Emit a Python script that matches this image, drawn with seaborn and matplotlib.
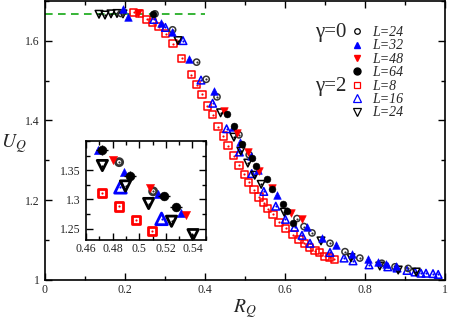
import matplotlib
matplotlib.use("Agg")
import matplotlib.pyplot as plt
import seaborn as sns
from matplotlib.lines import Line2D
from matplotlib.ticker import MultipleLocator, FuncFormatter

# ---------------- data ----------------
# gamma = 0
g0_L24_R = [0.190, 0.275, 0.319, 0.379, 0.403, 0.430, 0.4849, 0.5105, 0.630, 0.6475, 0.6675, 0.7125, 0.750, 0.787, 0.842, 0.875, 0.908]
g0_L24_U = [1.668, 1.667, 1.627, 1.546, 1.503, 1.459, 1.3638, 1.3138, 1.154, 1.134, 1.118, 1.092, 1.071, 1.055, 1.042, 1.033, 1.029]

g0_L32_R = [0.196, 0.2075, 0.290, 0.3175, 0.360, 0.4225, 0.4692, 0.4885, 0.5139, 0.5313, 0.581, 0.654, 0.692, 0.7285, 0.7685, 0.808, 0.833, 0.852, 0.877]
g0_L32_U = [1.680, 1.658, 1.643, 1.622, 1.554, 1.474, 1.384, 1.3466, 1.310, 1.2759, 1.212, 1.132, 1.105, 1.088, 1.065, 1.052, 1.045, 1.040, 1.035]

g0_L48_R = [0.232, 0.4475, 0.4805, 0.5079, 0.5352, 0.567, 0.615, 0.643]
g0_L48_U = [1.668, 1.423, 1.3678, 1.3201, 1.2741, 1.230, 1.167, 1.152]

g0_L64_R = [0.270, 0.454, 0.4723, 0.4934, 0.5187, 0.5279, 0.555, 0.567, 0.595, 0.605, 0.620]
g0_L64_U = [1.667, 1.416, 1.385, 1.3397, 1.3063, 1.2868, 1.252, 1.229, 1.190, 1.174, 1.142]
g0_L64_Rerr = [0.003, 0.004, 0.0045, 0.0045, 0.0045, 0.0045, 0.004, 0.004, 0.004, 0.004, 0.004]
g0_L64_Uerr = [0.004, 0.008, 0.009, 0.009, 0.007, 0.007, 0.006, 0.006, 0.005, 0.005, 0.005]

# gamma = 2
g2_L8_R = [0.222, 0.236, 0.254, 0.269, 0.285, 0.302, 0.320, 0.342, 0.366, 0.379, 0.3925, 0.406, 0.419, 0.4325, 0.446, 0.4575,
           0.4723, 0.4849, 0.4979, 0.5096, 0.5225, 0.535, 0.547, 0.557, 0.570, 0.585, 0.602, 0.620, 0.635, 0.648, 0.662,
           0.675, 0.687, 0.700, 0.712, 0.723]
g2_L8_U = [1.671, 1.668, 1.653, 1.645, 1.635, 1.617, 1.592, 1.556, 1.514, 1.489, 1.465, 1.436, 1.414, 1.384, 1.361, 1.336,
           1.3115, 1.2879, 1.2655, 1.2454, 1.226, 1.208, 1.194, 1.179, 1.165, 1.145, 1.130, 1.114, 1.102, 1.092, 1.082,
           1.073, 1.068, 1.060, 1.057, 1.052]

g2_L16_R = [0.272, 0.301, 0.345, 0.390, 0.419, 0.454, 0.4859, 0.5168, 0.547, 0.577, 0.601, 0.624, 0.6425, 0.6625, 0.7125,
            0.7475, 0.770, 0.810, 0.857, 0.880, 0.905, 0.925, 0.940, 0.9525, 0.970, 0.983]
g2_L16_U = [1.653, 1.633, 1.600, 1.501, 1.443, 1.379, 1.3207, 1.2667, 1.222, 1.185, 1.152, 1.132, 1.112, 1.092, 1.069,
            1.055, 1.048, 1.038, 1.033, 1.030, 1.024, 1.020, 1.017, 1.017, 1.016, 1.014]

g2_L24_R = [0.135, 0.150, 0.165, 0.180, 0.195, 0.3325, 0.439, 0.4723, 0.4897, 0.5071, 0.5243, 0.5405, 0.598, 0.690, 0.765, 0.837, 0.883, 0.928]
g2_L24_U = [1.666, 1.664, 1.667, 1.668, 1.667, 1.600, 1.419, 1.358, 1.323, 1.293, 1.2626, 1.2397, 1.170, 1.098, 1.056, 1.035, 1.025, 1.020]

plateau = 5.0 / 3.0
plateau_R = [0.0, 0.4]

legend_labels = ["L=24", "L=32", "L=48", "L=64", "L=8", "L=16", "L=24"]

# ---------------- style ----------------
sns.set_style("ticks")
plt.rcParams['font.family'] = ['Liberation Serif', 'DejaVu Serif']
plt.rcParams['mathtext.fontset'] = 'stix'
for a in ('x', 'y'):
    plt.rcParams[f'{a}tick.direction'] = 'in'

RED, BLUE, BLACK = "#ff0000", "#0000ff", "#000000"

series = [
    # R, U, marker, color, filled, main size, inset size
    (g2_L8_R, g2_L8_U, 's', RED, False, 26, 34),
    (g2_L16_R, g2_L16_U, '^', BLUE, False, 30, 70),
    (g2_L24_R, g2_L24_U, 'v', BLACK, False, 30, 55),
    (g0_L24_R, g0_L24_U, 'o', "#333333", False, 20, 26),
    (g0_L32_R, g0_L32_U, '^', BLUE, True, 30, 34),
    (g0_L48_R, g0_L48_U, 'v', RED, True, 30, 34),
    (g0_L64_R, g0_L64_U, 'o', BLACK, True, 24, 40),
]

INSET_X = (0.46, 0.55)
INSET_Y = (1.23, 1.40)


def draw(axis, R, U, marker, color, filled, s, lw, window=None):
    if window is not None:
        pts = [(r, u) for r, u in zip(R, U)
               if window[0][0] <= r <= window[0][1] and window[1][0] <= u <= window[1][1]]
        R = [p[0] for p in pts]
        U = [p[1] for p in pts]
        if not R:
            return
    if filled:
        sns.scatterplot(x=R, y=U, marker=marker, color=color, edgecolor=color, linewidth=0.4,
                        s=s, ax=axis, legend=False, zorder=3)
    else:
        sns.scatterplot(x=R, y=U, marker=marker, color=color, facecolors='none', edgecolor=color,
                        linewidth=lw, s=s, ax=axis, legend=False, zorder=3)
        sns.scatterplot(x=R, y=U, marker='o', color=color, edgecolor=color, linewidth=0,
                        s=2.5, ax=axis, legend=False, zorder=3)


fig = plt.figure(figsize=(4.49, 3.2), dpi=100)
ax = fig.add_axes([45 / 449, 40 / 320, 400 / 449, 279.3 / 320])

ax.plot(plateau_R, [plateau, plateau], color="#00a000", lw=1.1, dashes=(5, 3.5), zorder=2)

for R, U, m, c, f, s_main, s_in in series:
    draw(ax, R, U, m, c, f, s_main, 1.1)
ax.errorbar(g0_L64_R, g0_L64_U, xerr=g0_L64_Rerr, yerr=g0_L64_Uerr, fmt='none', ecolor=BLACK, elinewidth=0.8, zorder=3)

ax.set_xlim(0, 1)
ax.set_ylim(1, 1.7)
ax.xaxis.set_major_locator(MultipleLocator(0.2))
ax.xaxis.set_minor_locator(MultipleLocator(0.1))
ax.yaxis.set_major_locator(MultipleLocator(0.2))
ax.yaxis.set_minor_locator(MultipleLocator(0.1))
fmt = FuncFormatter(lambda v, p: f"{v:g}")
ax.xaxis.set_major_formatter(fmt)
ax.yaxis.set_major_formatter(fmt)
ax.tick_params(which='both', direction='in', top=True, right=True, width=1.0, labelsize=8.5, color='black')
ax.tick_params(which='major', length=5)
ax.tick_params(which='minor', length=3)
ax.tick_params(axis='x', pad=3)
ax.tick_params(axis='y', pad=4)
for sp in ax.spines.values():
    sp.set_linewidth(1.2)
    sp.set_color('black')

ax.set_xlabel(r"$R_Q$", fontsize=14)
ax.xaxis.set_label_coords(0.5, -0.06, transform=ax.transAxes)
ax.xaxis.label.set_va('top')
ax.set_ylabel(r"$U_Q$", fontsize=14, rotation=0)
ax.yaxis.set_label_coords(-0.077, 0.49, transform=ax.transAxes)
ax.yaxis.label.set_va('center')
ax.yaxis.label.set_ha('center')

# legend
handles = [
    Line2D([], [], marker='o', ls='none', color=BLACK, mfc='none', ms=4, mew=0.9),
    Line2D([], [], marker='^', ls='none', color=BLUE, mfc=BLUE, ms=5),
    Line2D([], [], marker='v', ls='none', color=RED, mfc=RED, ms=5),
    Line2D([], [], marker='o', ls='none', color=BLACK, mfc=BLACK, ms=5),
    Line2D([], [], marker='s', ls='none', color=RED, mfc='none', ms=5, mew=0.9),
    Line2D([], [], marker='^', ls='none', color=BLUE, mfc='none', ms=5.5, mew=0.9),
    Line2D([], [], marker='v', ls='none', color=BLACK, mfc='none', ms=5.5, mew=0.9),
]
ax.legend(handles, legend_labels, loc='upper left', bbox_to_anchor=((350 - 45) / 400, (280 - 26) / 279.3),
          frameon=False, handlelength=1.0, handletextpad=0.6, labelspacing=0.03, borderpad=0, borderaxespad=0,
          prop={'family': 'Liberation Serif', 'style': 'italic', 'size': 10})
ax.text((346 - 45) / 400, (280 - 32) / 279.3, "γ=0", transform=ax.transAxes, ha='right', va='center', fontsize=15)
ax.text((346 - 45) / 400, (280 - 86) / 279.3, "γ=2", transform=ax.transAxes, ha='right', va='center', fontsize=15)

# inset
ins = fig.add_axes([86 / 449, (320 - 240.3) / 320, 119.7 / 449, 99.3 / 320])
for R, U, m, c, f, s_main, s_in in series:
    draw(ins, R, U, m, c, f, s_in, 2.0, window=(INSET_X, INSET_Y))
ins.errorbar(g0_L64_R, g0_L64_U, xerr=g0_L64_Rerr, yerr=g0_L64_Uerr, fmt='none', ecolor=BLACK, elinewidth=1.0, zorder=3)
ins.set_xlim(*INSET_X)
ins.set_ylim(*INSET_Y)
ins.xaxis.set_major_locator(MultipleLocator(0.02))
ins.xaxis.set_minor_locator(MultipleLocator(0.01))
ins.yaxis.set_major_locator(MultipleLocator(0.05))
ins.yaxis.set_minor_locator(MultipleLocator(0.025))
ins.xaxis.set_major_formatter(fmt)
ins.yaxis.set_major_formatter(fmt)
ins.set_yticks([1.25, 1.3, 1.35])
ins.tick_params(which='both', direction='in', top=True, right=True, width=1.0, labelsize=8.5, color='black')
ins.tick_params(which='major', length=5)
ins.tick_params(which='minor', length=3)
ins.tick_params(axis='x', pad=2)
ins.tick_params(axis='y', pad=4)
ins.set_xlabel("")
ins.set_ylabel("")
for sp in ins.spines.values():
    sp.set_linewidth(1.2)
    sp.set_color('black')

fig.savefig("out.png", dpi=100)
